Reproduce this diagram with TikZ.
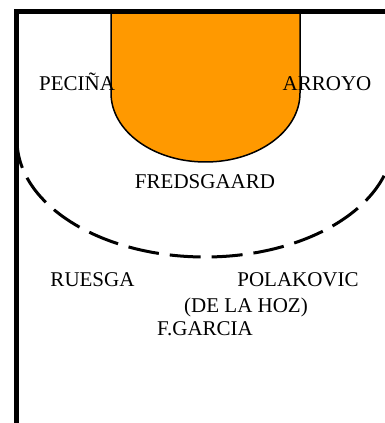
\documentclass[tikz,border=0pt]{standalone}
\usepackage{fontspec}
\setmainfont{Liberation Serif}
\definecolor{keyorange}{HTML}{FF9900}
\tikzset{%
courtline/.style={line width=4.5pt},
keyarea/.style={draw,fill=keyorange,line width=1.5pt},
threeline/.style={line width=3pt,dash pattern=on 31pt off 11pt,dash phase=2.5pt},
player/.style={anchor=base,inner sep=0pt,font=\fontsize{21}{25}\selectfont},
}

\begin{document}
\begin{tikzpicture}[x=1pt,y=1pt]
 \useasboundingbox (0,0) rectangle (385,423);
 \clip (0,0) rectangle (385,423);
 % paint and three point line
 \draw[keyarea] (111,411) -- (111,330)
   arc[start angle=180,end angle=360,x radius=94.5,y radius=69] -- (300,411);
 \draw[threeline] (17,283) arc[start angle=180,end angle=360,x radius=188,y radius=117];
 \draw[courtline] (16.5,0) -- (16.5,411.5) -- (390,411.5);
 % players
 \node[player] (pecina) at (77,332) {PECIÑA};
 \node[player] (arroyo) at (327,332) {ARROYO};
 \node[player] (fredsgaard) at (205,234) {FREDSGAARD};
 \node[player] (ruesga) at (92.5,136) {RUESGA};
 \node[player] (polakovic) at (298,136) {POLAKOVIC};
 \node[player] (delahoz) at (246,110) {(DE LA HOZ)};
 \node[player] (fgarcia) at (205,87) {F.GARCIA};
\end{tikzpicture}
\end{document}
